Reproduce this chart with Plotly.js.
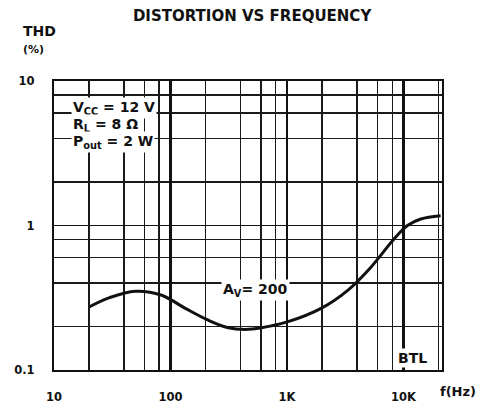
<!DOCTYPE html>
<html>
<head>
<meta charset="utf-8">
<script src="https://cdn.plot.ly/plotly-3.0.1.min.js"></script>
<style>html,body{margin:0;padding:0;background:#fff;}#chart{width:482px;height:408px;}</style>
</head>
<body>
<div id="chart"></div>
<script>
// Frequency (Hz) and THD (%) (Av = 200, BTL)
const freqHz = [20, 30, 50, 84, 134, 211, 313, 435, 603, 1020, 1960, 3320, 5250, 8320, 10800, 14060, 20800];
const thdPct = [0.273, 0.317, 0.351, 0.329, 0.267, 0.221, 0.196, 0.191, 0.196, 0.216, 0.267, 0.356, 0.515, 0.81, 1.0, 1.11, 1.17];

const xMajorVals = [10, 100, 1000, 10000];
const xMajorText = ['10', '100', '1K', '10K'];
const xMinorVals = [20, 40, 60, 80, 200, 400, 600, 800, 2000, 4000, 6000, 8000, 20000];
const yMajorVals = [0.1, 1, 10];
const yMajorText = ['0.1', '1', '10'];
const yMinorVals = [0.2, 0.4, 0.6, 0.8, 2, 4, 6, 8];

const F = 'DejaVu Sans, Liberation Sans, sans-serif';
const INK = '#111';

const trace = {
  x: freqHz, y: thdPct, type: 'scatter', mode: 'lines',
  line: {color: INK, width: 3, shape: 'spline', smoothing: 1.0},
  hoverinfo: 'skip'
};

function note(text, x, y, size, extra) {
  return Object.assign({text: '<b>' + text + '</b>', xref: 'paper', yref: 'paper', x: x, y: y,
    xanchor: 'left', yanchor: 'middle', showarrow: false,
    font: {family: F, size: size, color: INK}}, extra || {});
}

const layout = {
  width: 482, height: 408,
  margin: {l: 54, r: 40, t: 81, b: 38},
  paper_bgcolor: '#fff', plot_bgcolor: '#fff',
  showlegend: false,
  font: {family: F, color: INK},
  title: {text: '<b>DISTORTION VS FREQUENCY</b>', font: {family: F, size: 15, color: INK},
          x: 0.523, xanchor: 'center', y: 0.962, yanchor: 'middle'},
  xaxis: {
    type: 'log', range: [1, 4.33],
    tickmode: 'array', tickvals: xMajorVals, ticktext: xMajorText.map(t => '<b>' + t + '</b>'),
    tickfont: {family: F, size: 11.5, color: INK},
    ticks: 'outside', ticklen: 15, tickcolor: 'rgba(0,0,0,0)',
    showgrid: true, gridcolor: INK, gridwidth: 2.2,
    minor: {tickmode: 'array', tickvals: xMinorVals, showgrid: true, gridcolor: '#1a1a1a', gridwidth: 1.5, ticks: ''},
    showline: true, linecolor: INK, linewidth: 2.2, mirror: true,
    zeroline: false, fixedrange: true
  },
  yaxis: {
    type: 'log', range: [-1, 1],
    tickmode: 'array', tickvals: yMajorVals, ticktext: yMajorText.map(t => '<b>' + t + '</b>'),
    tickfont: {family: F, size: 11.5, color: INK},
    ticks: 'outside', ticklen: 15, tickcolor: 'rgba(0,0,0,0)',
    showgrid: true, gridcolor: INK, gridwidth: 1.7,
    minor: {tickmode: 'array', tickvals: yMinorVals, showgrid: true, gridcolor: '#1a1a1a', gridwidth: 1.5, ticks: ''},
    showline: true, linecolor: INK, linewidth: 2.2, mirror: true,
    zeroline: false, fixedrange: true
  },
  annotations: [
    note('THD', -0.085, 1.173, 14),
    note('(%)', -0.085, 1.11, 11),
    note('f(Hz)', 1.041, -0.076, 13, {xanchor: 'center'}),
    note('V<sub>CC</sub> = 12 V', 0.044, 0.906, 14, {bgcolor: '#fff'}),
    note('R<sub>L</sub> = 8 Ω', 0.044, 0.848, 14, {bgcolor: '#fff'}),
    note('P<sub>out</sub> = 2 W', 0.044, 0.789, 14, {bgcolor: '#fff'}),
    note('A<sub>V</sub>= 200', 0.52, 0.277, 14, {xanchor: 'center', bgcolor: '#fff'}),
    note('BTL', 0.923, 0.043, 14, {xanchor: 'center', bgcolor: '#fff'})
  ]
};

Plotly.newPlot('chart', [trace], layout, {displayModeBar: false, staticPlot: true});
</script>
</body>
</html>
